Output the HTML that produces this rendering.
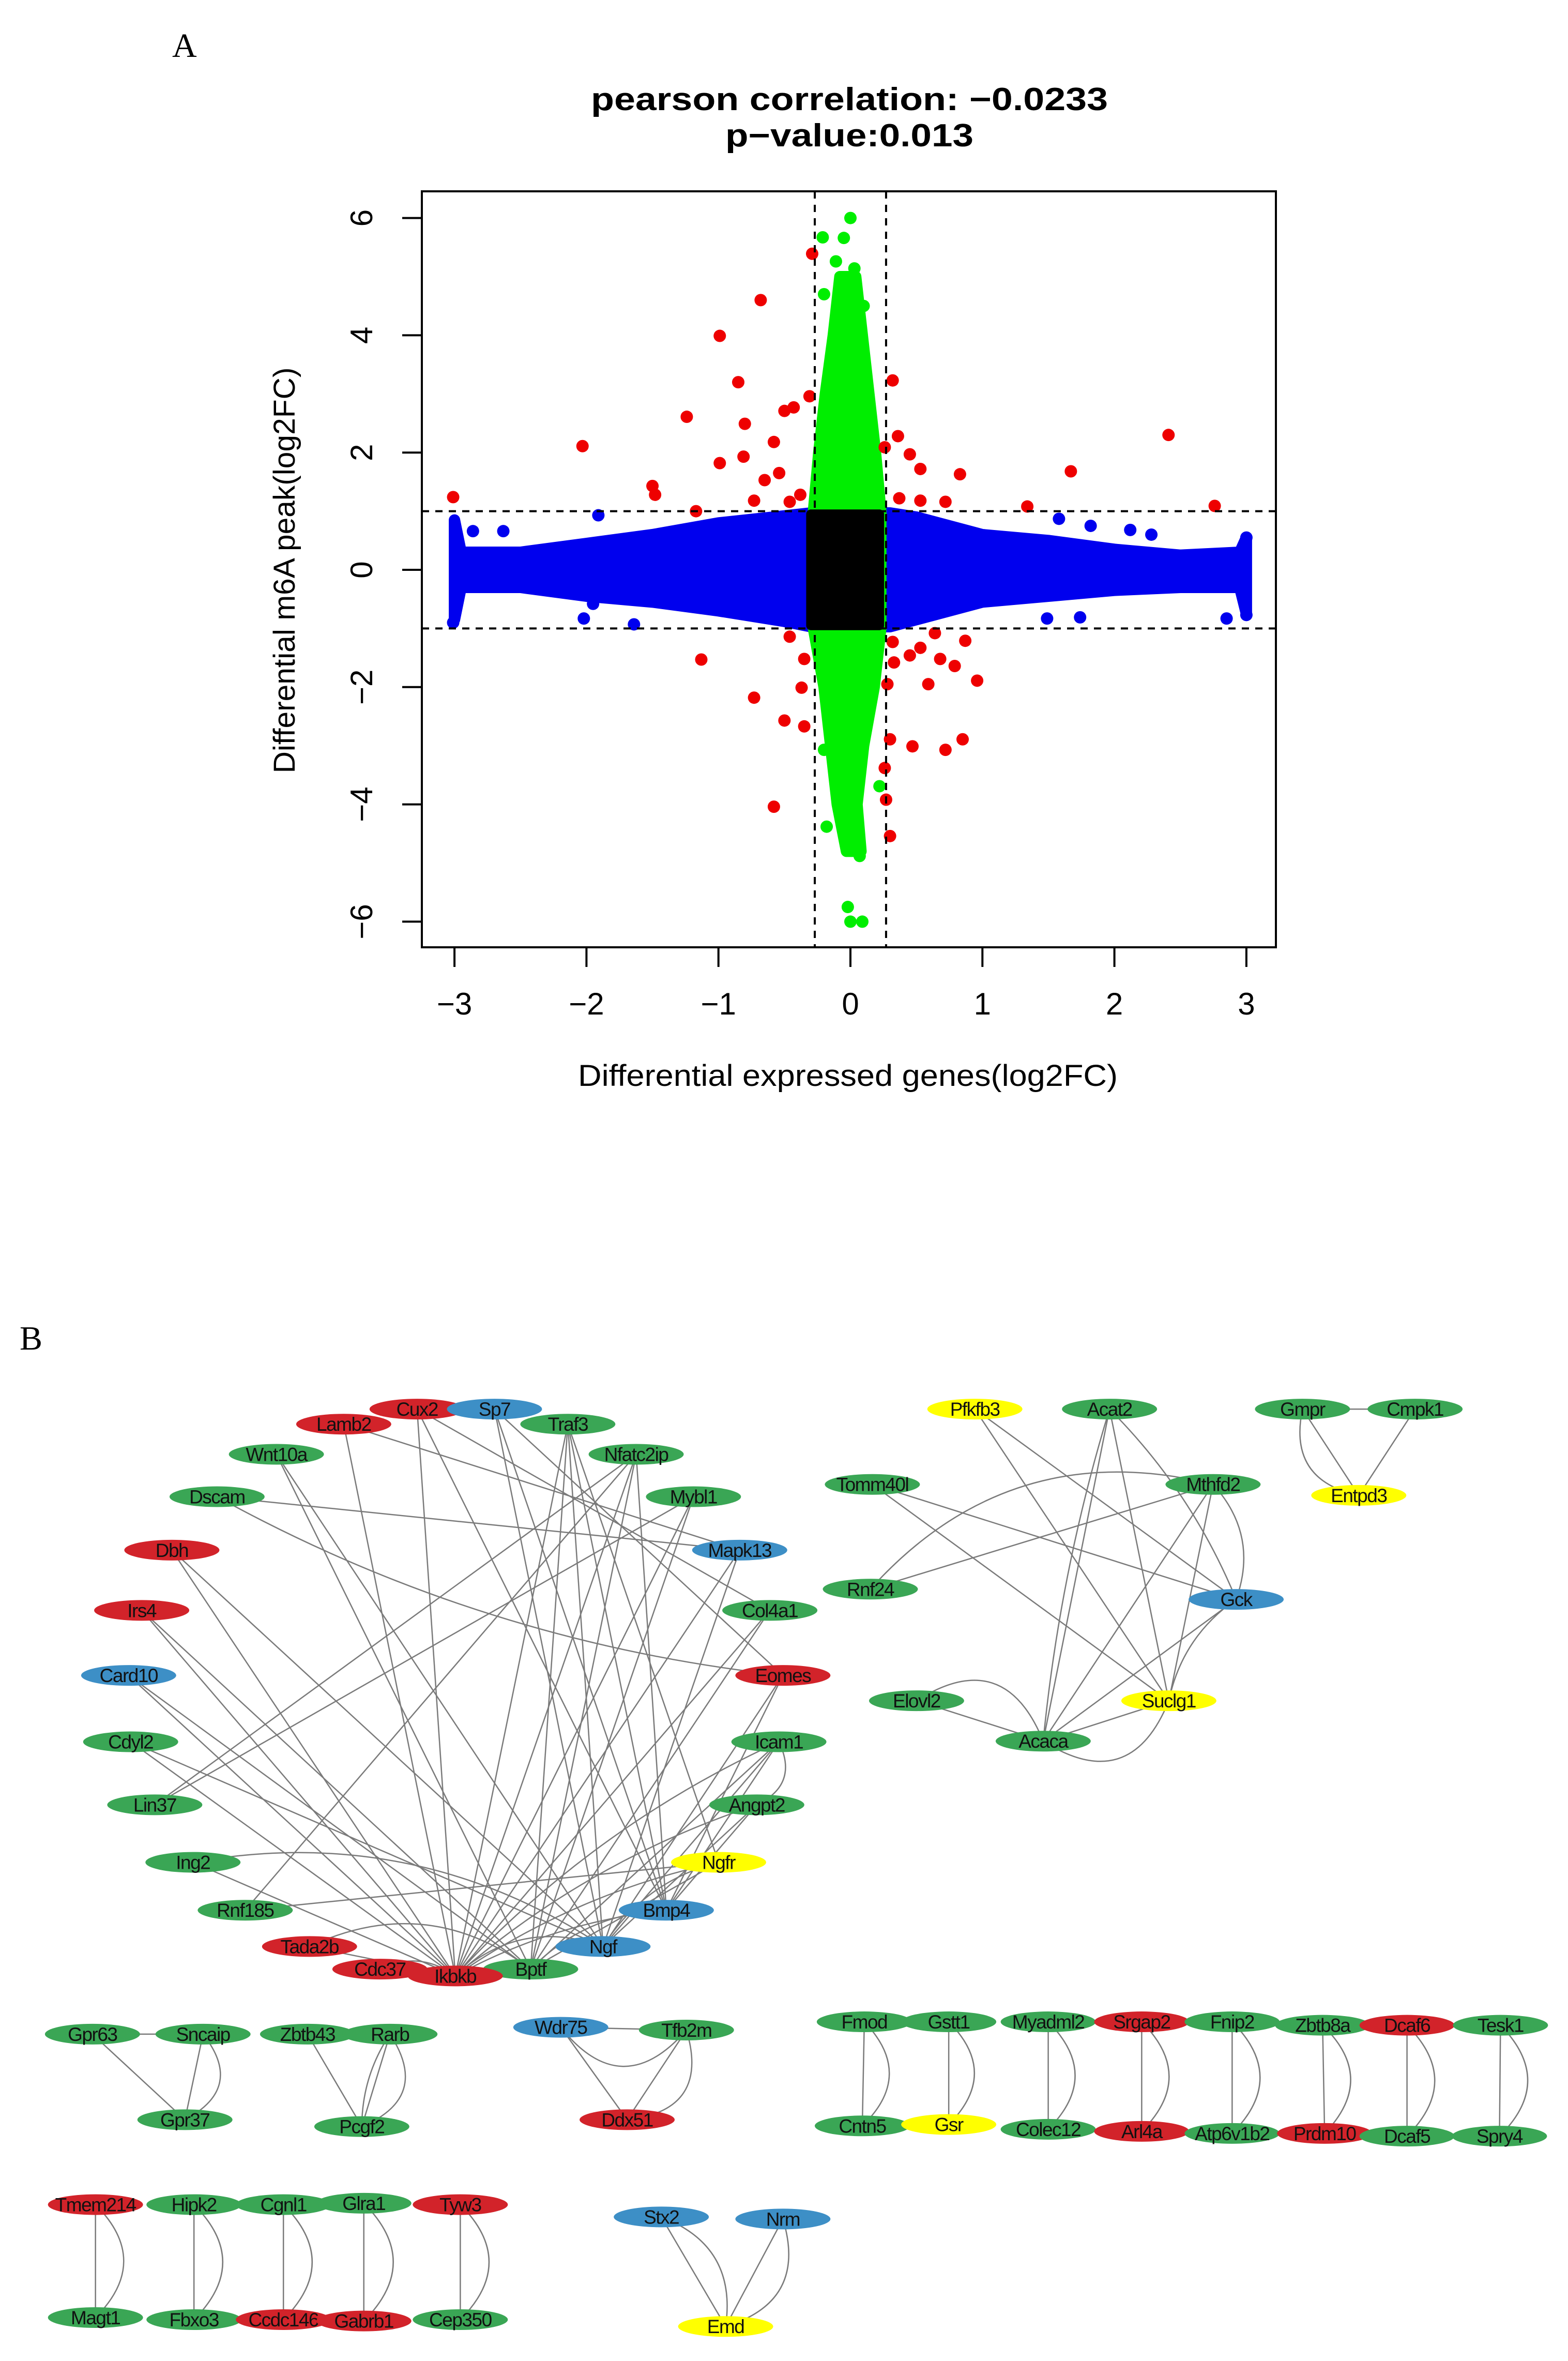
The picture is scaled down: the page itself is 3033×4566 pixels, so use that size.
<!DOCTYPE html>
<html><head><meta charset="utf-8"><style>
html,body{margin:0;padding:0;background:#fff}
svg{display:block}
text{font-family:"Liberation Sans",sans-serif}
text.serif{font-family:"Liberation Serif",serif}
</style></head><body>
<svg id="fig" width="3033" height="4566" viewBox="0 0 3033 4566" xmlns="http://www.w3.org/2000/svg">
<rect width="3033" height="4566" fill="#fff"/>
<text class="serif" x="333" y="110" font-size="66">A</text>
<text x="1643" y="213" text-anchor="middle" font-weight="bold" font-size="62" textLength="1000" lengthAdjust="spacingAndGlyphs">pearson correlation: −0.0233</text>
<text x="1643" y="283" text-anchor="middle" font-weight="bold" font-size="62" textLength="480" lengthAdjust="spacingAndGlyphs">p−value:0.013</text>
<g id="plot"></g>
<text class="serif" x="38" y="2610" font-size="66">B</text>
<g id="net"></g>
</svg>
<script>
// ===== chart data =====
const xTicks=[-3,-2,-1,0,1,2,3];
const xTickLabels=["−3","−2","−1","0","1","2","3"];
const yTicks=[-6,-4,-2,0,2,4,6];
const yTickLabels=["−6","−4","−2","0","2","4","6"];
const xCut=[-0.27,0.27];
const yCut=[-1,1];
// blue band envelope: [x, upper, lower]
const blueEnvelope=[[-3,0.85,-0.85],[-2.95,0.3,-0.3],[-2.5,0.3,-0.3],[-2,0.45,-0.45],[-1.5,0.6,-0.55],[-1,0.8,-0.7],[-0.5,0.92,-0.88],[-0.3,0.97,-0.97],[0.3,0.97,-0.97],[0.5,0.9,-0.85],[1,0.6,-0.55],[1.5,0.5,-0.45],[2,0.35,-0.35],[2.5,0.25,-0.3],[2.95,0.3,-0.3],[3,0.55,-0.75]];
// green band envelope: [y, left, right]
const greenEnvelope=[[5.0,-0.08,0.04],[4,-0.13,0.09],[3,-0.19,0.14],[2,-0.24,0.19],[1,-0.28,0.23],[-1,-0.28,0.23],[-2,-0.2,0.18],[-3,-0.15,0.1],[-4,-0.1,0.05],[-4.8,-0.03,0.08]];
const blackCore=[-0.3,0.22,-0.95,0.95];
const redX=[-3.01,-2.03,-0.99,-0.68,-0.29,-0.85,-1.24,-0.8,-0.99,-1.5,-1.48,-1.17,-0.81,-0.58,-0.5,-0.43,-0.31,-0.65,-0.54,-0.46,-0.73,-0.38,0.32,0.36,0.45,0.53,0.83,0.37,0.53,0.72,1.34,1.67,2.41,2.76,0.26,-1.13,-0.73,-0.5,-0.35,-0.37,-0.35,-0.46,-0.58,0.32,0.33,0.45,0.53,0.64,0.68,0.79,0.59,0.87,0.96,0.3,0.47,0.72,0.85,0.26,0.27,0.3,0.28];
const redY=[1.24,2.11,3.99,4.6,5.39,3.2,2.61,2.49,1.82,1.43,1.28,1.0,1.93,2.18,2.71,2.77,2.96,1.53,1.65,1.16,1.18,1.28,3.23,2.28,1.97,1.72,1.63,1.22,1.18,1.16,1.08,1.68,2.3,1.09,2.09,-1.53,-2.18,-2.57,-2.67,-2.01,-1.52,-1.14,-4.04,-1.23,-1.58,-1.46,-1.33,-1.08,-1.52,-1.64,-1.95,-1.21,-1.89,-2.89,-3.01,-3.07,-2.89,-3.38,-3.92,-4.54,-1.95];
const greenX=[0,-0.21,-0.05,-0.11,0.03,-0.2,0.1,-0.02,0,0.09,-0.18,0.07,0.22,-0.2];
const greenY=[6,5.67,5.66,5.26,5.14,4.7,4.5,-5.75,-6,-6,-4.38,-4.88,-3.69,-3.07];
const blueX=[-2.86,-2.63,-1.91,-2.02,-1.64,-1.95,1.58,1.82,2.12,2.28,1.49,1.74,2.85,3,-3.01,3];
const blueY=[0.66,0.66,0.93,-0.83,-0.93,-0.58,0.87,0.75,0.68,0.6,-0.83,-0.81,-0.83,-0.77,-0.9,0.55];

const NS="http://www.w3.org/2000/svg";
const L=816,R=2468,T=370,B=1832;
const sx=v=>1645+v*255.3, sy=v=>1102-v*113.4;
const plot=document.getElementById('plot');
function mk(tag,attrs,parent){const e=document.createElementNS(NS,tag);for(const k in attrs)e.setAttribute(k,attrs[k]);(parent||plot).appendChild(e);return e;}

let d="M"+blueEnvelope.map(p=>sx(p[0])+","+sy(p[1])).join(" L")+" L"+blueEnvelope.slice().reverse().map(p=>sx(p[0])+","+sy(p[2])).join(" L")+"Z";
let e=mk('path',{d:d,fill:'#0000ee',stroke:'#0000ee','stroke-width':22,'stroke-linejoin':'round'});


d="M"+greenEnvelope.map(p=>sx(p[1])+","+sy(p[0])).join(" L")+" L"+greenEnvelope.slice().reverse().map(p=>sx(p[2])+","+sy(p[0])).join(" L")+"Z";
e=mk('path',{d:d,fill:'#00ee00',stroke:'#00ee00','stroke-width':22,'stroke-linejoin':'round'});


function pts(xs,ys,col,name){xs.forEach((x,i)=>{const c=mk('circle',{cx:sx(x),cy:sy(ys[i]),r:12,fill:col});

});}
pts(blueX,blueY,'#0000ee','blue-point');
pts(greenX,greenY,'#00ee00','green-point');
e=mk('rect',{x:sx(blackCore[0]),y:sy(blackCore[3]),width:sx(blackCore[1])-sx(blackCore[0]),height:sy(blackCore[2])-sy(blackCore[3]),fill:'#000',stroke:'#000','stroke-width':18,'stroke-linejoin':'round'});


pts(redX,redY,'#ee0000','red-point');
xCut.forEach(v=>{const l=mk('line',{x1:sx(v),x2:sx(v),y1:T,y2:B,stroke:'#000','stroke-width':4,'stroke-dasharray':'14,12'});

});
yCut.forEach(v=>{const l=mk('line',{x1:L,x2:R,y1:sy(v),y2:sy(v),stroke:'#000','stroke-width':4,'stroke-dasharray':'14,12'});

});
e=mk('rect',{x:L,y:T,width:R-L,height:B-T,fill:'none',stroke:'#000','stroke-width':4});


xTicks.forEach((v,i)=>{const l=mk('line',{x1:sx(v),x2:sx(v),y1:B,y2:B+38,stroke:'#000','stroke-width':4});


const t=mk('text',{x:sx(v),y:1962,'text-anchor':'middle','font-size':60});t.textContent=xTickLabels[i];

});
yTicks.forEach((v,i)=>{const l=mk('line',{x1:L-38,x2:L,y1:sy(v),y2:sy(v),stroke:'#000','stroke-width':4});


const t=mk('text',{x:0,y:0,'text-anchor':'middle','font-size':60,transform:`translate(720,${sy(v)}) rotate(-90)`});t.textContent=yTickLabels[i];

});
let t=mk('text',{x:1640,y:2100,'text-anchor':'middle','font-size':58,textLength:1044,lengthAdjust:'spacingAndGlyphs'});t.textContent='Differential expressed genes(log2FC)';


t=mk('text',{x:0,y:0,'text-anchor':'middle','font-size':58,textLength:785,lengthAdjust:'spacingAndGlyphs',transform:'translate(570,1103) rotate(-90)'});t.textContent='Differential m6A peak(log2FC)';



// ===== network =====
const COL={g:'#3aa655',r:'#d2232a',b:'#3d8fc6',y:'#ffff00'};
const nodes=[["Cux2",415,170,"r"],["Sp7",492,170,"b"],["Lamb2",342,192,"r"],["Traf3",565,192,"g"],["Wnt10a",275,236,"g"],["Nfatc2ip",633,236,"g"],["Dscam",216,298,"g"],["Mybl1",690,298,"g"],["Dbh",171,376,"r"],["Mapk13",736,376,"b"],["Irs4",141,464,"r"],["Col4a1",766,464,"g"],["Card10",128,559,"b"],["Eomes",779,559,"r"],["Cdyl2",130,656,"g"],["Icam1",775,656,"g"],["Lin37",154,748,"g"],["Angpt2",753,748,"g"],["Ing2",192,832,"g"],["Ngfr",715,832,"y"],["Rnf185",244,902,"g"],["Bmp4",663,902,"b"],["Tada2b",308,955,"r"],["Ngf",600,955,"b"],["Cdc37",378,988,"r"],["Bptf",528,988,"g"],["Ikbkb",453,998,"r"],
["Pfkfb3",970,170,"y"],["Acat2",1104,170,"g"],["Gmpr",1296,170,"g"],["Cmpk1",1408,170,"g"],["Entpd3",1352,296,"y"],["Tomm40l",868,280,"g"],["Mthfd2",1207,280,"g"],["Rnf24",866,433,"g"],["Gck",1230,448,"b"],["Elovl2",912,596,"g"],["Suclg1",1163,596,"y"],["Acaca",1038,655,"g"],
["Gpr63",92,1083,"g"],["Sncaip",202,1083,"g"],["Gpr37",184,1208,"g"],["Zbtb43",306,1083,"g"],["Rarb",388,1083,"g"],["Pcgf2",360,1218,"g"],["Wdr75",558,1073,"b"],["Tfb2m",683,1077,"g"],["Ddx51",624,1208,"r"],
["Fmod",860,1065,"g"],["Gstt1",944,1065,"g"],["Myadml2",1043,1065,"g"],["Srgap2",1136,1065,"r"],["Fnip2",1226,1065,"g"],["Zbtb8a",1316,1070,"g"],["Dcaf6",1400,1070,"r"],["Tesk1",1493,1070,"g"],
["Cntn5",858,1217,"g"],["Gsr",944,1215,"y"],["Colec12",1043,1222,"g"],["Arl4a",1136,1225,"r"],["Atp6v1b2",1226,1228,"g"],["Prdm10",1318,1228,"r"],["Dcaf5",1400,1232,"g"],["Spry4",1492,1232,"g"],
["Tmem214",95,1332,"r"],["Hipk2",193,1332,"g"],["Cgnl1",282,1332,"g"],["Glra1",362,1330,"g"],["Tyw3",458,1332,"r"],["Magt1",95,1497,"g"],["Fbxo3",193,1500,"g"],["Ccdc146",282,1500,"r"],["Gabrb1",362,1502,"r"],["Cep350",458,1500,"g"],
["Stx2",658,1350,"b"],["Nrm",779,1353,"b"],["Emd",722,1510,"y"]];
const edges=[["Cux2","Ikbkb",0],["Cux2","Bmp4",0],["Cux2","Col4a1",0],["Sp7","Ngf",0],["Sp7","Bmp4",0],["Sp7","Eomes",0],["Lamb2","Ikbkb",0],["Lamb2","Mapk13",0],["Traf3","Ikbkb",0],["Traf3","Bptf",0],["Traf3","Ngf",0],["Traf3","Bmp4",0],["Traf3","Ngfr",0],["Wnt10a","Bptf",0],["Wnt10a","Ngf",0],["Nfatc2ip","Ikbkb",0],["Nfatc2ip","Bptf",0],["Nfatc2ip","Lin37",0],["Nfatc2ip","Rnf185",0],["Nfatc2ip","Bmp4",0],["Dscam","Mapk13",0],["Dscam","Eomes",0.1],["Mybl1","Lin37",0],["Mybl1","Ikbkb",0],["Mybl1","Bptf",0],["Dbh","Ikbkb",0],["Dbh","Ngf",0],["Irs4","Ikbkb",0],["Irs4","Bptf",0],["Card10","Ikbkb",0],["Card10","Bptf",0],["Cdyl2","Ikbkb",0],["Cdyl2","Ngf",0],["Mapk13","Ikbkb",0],["Mapk13","Ngf",0],["Col4a1","Bptf",0],["Col4a1","Ikbkb",0],["Eomes","Bmp4",0],["Eomes","Ngf",0],["Icam1","Ikbkb",0.1],["Icam1","Bptf",0],["Icam1","Ngf",0],["Icam1","Bmp4",0],["Icam1","Angpt2",-0.5],["Angpt2","Bmp4",0],["Angpt2","Ngf",0],["Angpt2","Ikbkb",0.1],["Ngfr","Ikbkb",0.1],["Ngfr","Bptf",0],["Ngfr","Ngf",0.2],["Bmp4","Ikbkb",0.1],["Bmp4","Bptf",0.2],["Ngf","Ikbkb",0.3],["Ing2","Ikbkb",0],["Ing2","Ngf",-0.2],["Tada2b","Ikbkb",0],["Tada2b","Bptf",-0.3],["Cdc37","Ikbkb",-0.3],["Rnf185","Ngfr",0],
["Pfkfb3","Gck",0],["Pfkfb3","Suclg1",0],["Acat2","Acaca",0],["Acat2","Suclg1",0],["Acat2","Gck",-0.1],["Acat2","Acaca",0.05],["Tomm40l","Suclg1",0],["Tomm40l","Gck",0],["Mthfd2","Rnf24",0],["Rnf24","Mthfd2",-0.3],["Mthfd2","Acaca",0],["Mthfd2","Suclg1",0],["Mthfd2","Gck",-0.3],["Gck","Acaca",0],["Gck","Suclg1",0.2],["Elovl2","Acaca",0],["Elovl2","Acaca",-0.6],["Acaca","Suclg1",0],["Acaca","Suclg1",0.6],["Gmpr","Entpd3",0],["Cmpk1","Entpd3",0],["Gmpr","Cmpk1",0],["Gmpr","Entpd3",0.5],
["Gpr63","Sncaip",0],["Gpr63","Gpr37",0],["Sncaip","Gpr37",0],["Sncaip","Gpr37",-0.6],["Zbtb43","Pcgf2",0],["Rarb","Pcgf2",0],["Rarb","Pcgf2",-0.6],["Rarb","Pcgf2",0.15],["Wdr75","Tfb2m",0],["Wdr75","Ddx51",0],["Tfb2m","Ddx51",0],["Tfb2m","Ddx51",-0.6],["Wdr75","Tfb2m",0.6],
["Fmod","Cntn5",0],["Fmod","Cntn5",-0.5],["Gstt1","Gsr",0],["Gstt1","Gsr",-0.5],["Myadml2","Colec12",0],["Myadml2","Colec12",-0.5],["Srgap2","Arl4a",0],["Srgap2","Arl4a",-0.5],["Fnip2","Atp6v1b2",0],["Fnip2","Atp6v1b2",-0.5],["Zbtb8a","Prdm10",0],["Zbtb8a","Prdm10",-0.5],["Dcaf6","Dcaf5",0],["Dcaf6","Dcaf5",-0.5],["Tesk1","Spry4",0],["Tesk1","Spry4",-0.5],
["Tmem214","Magt1",0],["Tmem214","Magt1",-0.5],["Hipk2","Fbxo3",0],["Hipk2","Fbxo3",-0.5],["Cgnl1","Ccdc146",0],["Cgnl1","Ccdc146",-0.5],["Glra1","Gabrb1",0],["Glra1","Gabrb1",-0.5],["Tyw3","Cep350",0],["Tyw3","Cep350",-0.5],
["Stx2","Emd",0],["Stx2","Emd",-0.4],["Nrm","Emd",0],["Nrm","Emd",-0.5]];
const net=document.getElementById('net');
const X=v=>v*1.944, Y=v=>2500+v*1.324;
const pos={};nodes.forEach(n=>pos[n[0]]=[X(n[1]),Y(n[2])]);
const eg=mk('g',{},net);
edges.forEach(ed=>{const a=pos[ed[0]],b=pos[ed[1]];let dd;
if(ed[2]===0)dd=`M${a[0]},${a[1]} L${b[0]},${b[1]}`;else{const mx=(a[0]+b[0])/2,my=(a[1]+b[1])/2,dx=b[0]-a[0],dy=b[1]-a[1];const cx=mx-dy*ed[2],cy=my+dx*ed[2];dd=`M${a[0]},${a[1]} Q${cx},${cy} ${b[0]},${b[1]}`;}
const p=mk('path',{d:dd,fill:'none',stroke:'#7a7a7a','stroke-width':2.5},eg);

});
nodes.forEach(n=>{const g=mk('g',{},net);


mk('ellipse',{cx:X(n[1]),cy:Y(n[2]),rx:92,ry:20,fill:COL[n[3]]},g);
const tx=mk('text',{x:X(n[1]),y:Y(n[2])+13,'text-anchor':'middle','font-size':37,fill:'#111','letter-spacing':'-1.5'},g);tx.textContent=n[0];});
</script>
</body></html>
